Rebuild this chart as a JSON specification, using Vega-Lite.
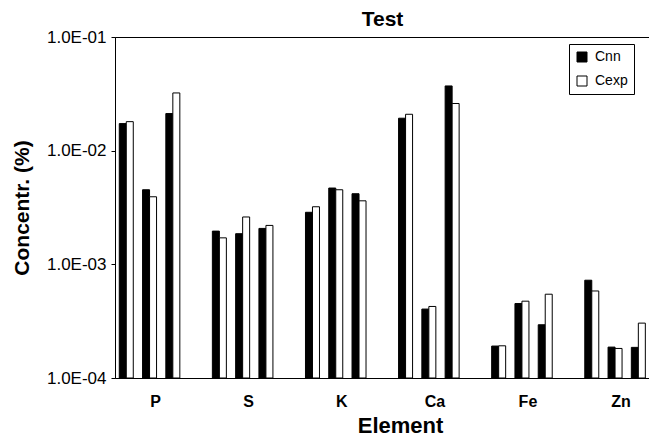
{
  "$schema": "https://vega.github.io/schema/vega-lite/v6.json",
  "autosize": {"type": "none"},
  "padding": {"left": 115, "top": 37, "right": 0, "bottom": 58},
  "width": 535,
  "height": 341,
  "background": "white",
  "title": {"text": "Test", "font": "Liberation Sans", "fontSize": 21, "fontWeight": "bold", "color": "black", "anchor": "middle", "baseline": "alphabetic", "offset": -12, "dy": 7},
  "config": {
    "view": {"stroke": "black", "strokeWidth": 1},
    "font": "Liberation Sans"
  },
  "data": {"values": [
    {"element": "P", "sample": "s1", "series": "Cnn", "value": 0.0173},
    {"element": "P", "sample": "s1", "series": "Cexp", "value": 0.0180},
    {"element": "P", "sample": "s2", "series": "Cnn", "value": 0.00453},
    {"element": "P", "sample": "s2", "series": "Cexp", "value": 0.00393},
    {"element": "P", "sample": "s3", "series": "Cnn", "value": 0.0212},
    {"element": "P", "sample": "s3", "series": "Cexp", "value": 0.0322},
    {"element": "S", "sample": "s1", "series": "Cnn", "value": 0.00196},
    {"element": "S", "sample": "s1", "series": "Cexp", "value": 0.00171},
    {"element": "S", "sample": "s2", "series": "Cnn", "value": 0.00186},
    {"element": "S", "sample": "s2", "series": "Cexp", "value": 0.00261},
    {"element": "S", "sample": "s3", "series": "Cnn", "value": 0.00207},
    {"element": "S", "sample": "s3", "series": "Cexp", "value": 0.00220},
    {"element": "K", "sample": "s1", "series": "Cnn", "value": 0.00287},
    {"element": "K", "sample": "s1", "series": "Cexp", "value": 0.00321},
    {"element": "K", "sample": "s2", "series": "Cnn", "value": 0.00469},
    {"element": "K", "sample": "s2", "series": "Cexp", "value": 0.00453},
    {"element": "K", "sample": "s3", "series": "Cnn", "value": 0.00418},
    {"element": "K", "sample": "s3", "series": "Cexp", "value": 0.00362},
    {"element": "Ca", "sample": "s1", "series": "Cnn", "value": 0.0193},
    {"element": "Ca", "sample": "s1", "series": "Cexp", "value": 0.0209},
    {"element": "Ca", "sample": "s2", "series": "Cnn", "value": 0.000404},
    {"element": "Ca", "sample": "s2", "series": "Cexp", "value": 0.000426},
    {"element": "Ca", "sample": "s3", "series": "Cnn", "value": 0.0371},
    {"element": "Ca", "sample": "s3", "series": "Cexp", "value": 0.0260},
    {"element": "Fe", "sample": "s1", "series": "Cnn", "value": 0.000191},
    {"element": "Fe", "sample": "s1", "series": "Cexp", "value": 0.000192},
    {"element": "Fe", "sample": "s2", "series": "Cnn", "value": 0.000452},
    {"element": "Fe", "sample": "s2", "series": "Cexp", "value": 0.000474},
    {"element": "Fe", "sample": "s3", "series": "Cnn", "value": 0.000294},
    {"element": "Fe", "sample": "s3", "series": "Cexp", "value": 0.000546},
    {"element": "Zn", "sample": "s1", "series": "Cnn", "value": 0.000725},
    {"element": "Zn", "sample": "s1", "series": "Cexp", "value": 0.000583},
    {"element": "Zn", "sample": "s2", "series": "Cnn", "value": 0.000187},
    {"element": "Zn", "sample": "s2", "series": "Cexp", "value": 0.000182},
    {"element": "Zn", "sample": "s3", "series": "Cnn", "value": 0.000186},
    {"element": "Zn", "sample": "s3", "series": "Cexp", "value": 0.000304}
  ]},
  "encoding": {
    "x": {
      "field": "element", "type": "nominal",
      "scale": {"domain": ["P", "S", "K", "Ca", "Fe", "Zn"], "range": [-12, 546.6], "paddingInner": 0, "paddingOuter": 0},
      "axis": {"title": "Element", "titleFontSize": 22, "titleFontWeight": "bold", "titleColor": "black", "titlePadding": 6, "titleX": 285,
        "labelFontSize": 16, "labelFontWeight": "bold", "labelColor": "black", "labelAngle": 0, "labelPadding": 15, "labelOffset": 6,
        "domain": false, "ticks": false, "grid": false}
    },
    "y": {
      "field": "value", "type": "quantitative",
      "scale": {"type": "log", "domain": [0.0001, 0.1], "nice": false},
      "axis": {"title": "Concentr. (%)", "titleFontSize": 21, "titleFontWeight": "bold", "titleColor": "black", "titlePadding": 14,
        "values": [0.0001, 0.001, 0.01, 0.1],
        "labelExpr": "'1.0E-0' + (-round(log(datum.value)/LN10))",
        "labelFontSize": 17, "labelColor": "black", "labelPadding": 5,
        "domainColor": "black", "tickColor": "black", "tickSize": 4, "grid": false}
    },
    "y2": {"datum": 0.0001},
    "fill": {
      "field": "series", "type": "nominal",
      "scale": {"domain": ["Cnn", "Cexp"], "range": ["black", "white"]},
      "legend": {"title": null, "orient": "none", "legendX": 454, "legendY": 7,
        "symbolType": "square", "symbolSize": 100, "symbolStrokeColor": "black", "symbolStrokeWidth": 1,
        "labelFontSize": 14, "labelColor": "black", "labelOffset": 6, "rowPadding": 10,
        "padding": 6, "strokeColor": "black", "fillColor": "white", "cornerRadius": 0}
    }
  },
  "layer": [
    {"transform": [{"filter": "datum.series === 'Cnn' && datum.sample === 's1'"}],
     "mark": {"type": "bar", "width": 7, "xOffset": -26.78, "stroke": "black", "strokeWidth": 1}},
    {"transform": [{"filter": "datum.series === 'Cexp' && datum.sample === 's1'"}],
     "mark": {"type": "bar", "width": 7, "xOffset": -19.78, "stroke": "black", "strokeWidth": 1}},
    {"transform": [{"filter": "datum.series === 'Cnn' && datum.sample === 's2'"}],
     "mark": {"type": "bar", "width": 7, "xOffset": -3.5, "stroke": "black", "strokeWidth": 1}},
    {"transform": [{"filter": "datum.series === 'Cexp' && datum.sample === 's2'"}],
     "mark": {"type": "bar", "width": 7, "xOffset": 3.5, "stroke": "black", "strokeWidth": 1}},
    {"transform": [{"filter": "datum.series === 'Cnn' && datum.sample === 's3'"}],
     "mark": {"type": "bar", "width": 7, "xOffset": 19.78, "stroke": "black", "strokeWidth": 1}},
    {"transform": [{"filter": "datum.series === 'Cexp' && datum.sample === 's3'"}],
     "mark": {"type": "bar", "width": 7, "xOffset": 26.78, "stroke": "black", "strokeWidth": 1}}
  ]
}
